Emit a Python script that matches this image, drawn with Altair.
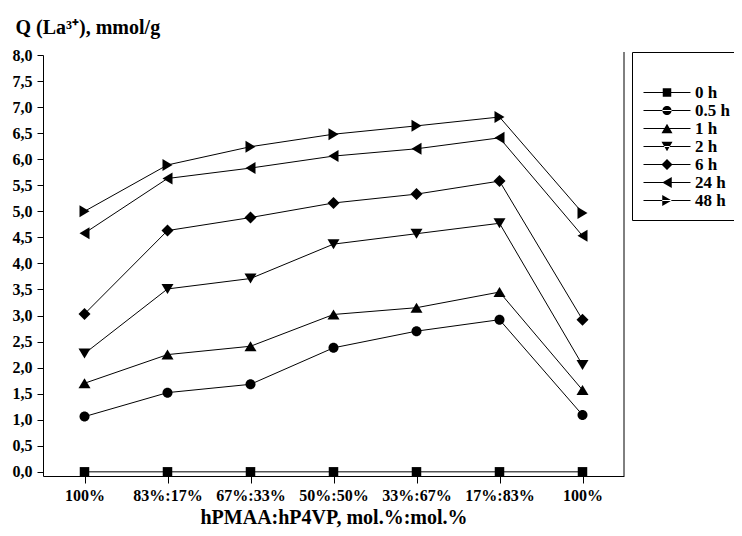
import altair as alt
import pandas as pd

# ---- data ----
compositions = ["100%", "83%:17%", "67%:33%", "50%:50%", "33%:67%", "17%:83%", "100%"]
series_names = ["0 h", "0.5 h", "1 h", "2 h", "6 h", "24 h", "48 h"]

q_0h = [0.0, 0.0, 0.0, 0.0, 0.0, 0.0, 0.0]
q_05h = [1.06, 1.52, 1.68, 2.38, 2.70, 2.92, 1.09]
q_1h = [1.70, 2.25, 2.41, 3.02, 3.15, 3.45, 1.57]
q_2h = [2.27, 3.51, 3.71, 4.37, 4.57, 4.77, 2.05]
q_6h = [3.03, 4.63, 4.88, 5.16, 5.33, 5.58, 2.92]
q_24h = [4.58, 5.63, 5.83, 6.06, 6.20, 6.41, 4.53]
q_48h = [5.00, 5.89, 6.24, 6.48, 6.64, 6.81, 4.97]

all_series = [q_0h, q_05h, q_1h, q_2h, q_6h, q_24h, q_48h]

rows = []
for s, vals in zip(series_names, all_series):
    for i, v in enumerate(vals):
        rows.append({"pos": i, "series": s, "q": v})
df = pd.DataFrame(rows)

FONT = "'Liberation Serif', 'Times New Roman', Times, serif"

# marker shapes for the plotted points (unit = 5 px at size 100)
chart_shapes = [
    "M-0.95,-0.95H0.95V0.95H-0.95Z",
    "M-1,0A1,1,0,1,0,1,0A1,1,0,1,0,-1,0Z",
    "M0,-1L1.2,1L-1.2,1Z",
    "M0,1L1.2,-1L-1.2,-1Z",
    "M0,-1.2L1.2,0L0,1.2L-1.2,0Z",
    "M-1,0L1,-1.2L1,1.2Z",
    "M1,0L-1,-1.2L-1,1.2Z",
]
# legend symbols: a thin line with the marker in its middle (unit = 5 px at size 100)
line = "M-4.7,-0.1H4.7V0.1H-4.7Z"
legend_shapes = [
    line + "M-0.85,-0.85H0.85V0.85H-0.85Z",
    line + "M-0.92,0A0.92,0.92,0,1,0,0.92,0A0.92,0.92,0,1,0,-0.92,0Z",
    line + "M0,-0.95L1.1,0.95L-1.1,0.95Z",
    line + "M0,0.95L1.1,-0.95L-1.1,-0.95Z",
    line + "M0,-1.1L1.1,0L0,1.1L-1.1,0Z",
    line + "M-0.95,0L0.95,-1.1L0.95,1.1Z",
    line + "M0.95,0L-0.95,-1.1L-0.95,1.1Z",
]

label_js = "[" + ",".join("'" + c + "'" for c in compositions) + "]"

x_enc = alt.X(
    "pos:Q",
    scale=alt.Scale(domain=[-0.5, 6.5], nice=False, zero=False),
    axis=alt.Axis(
        values=list(range(7)),
        labelExpr=label_js + "[datum.value]",
        title="hPMAA:hP4VP, mol.%:mol.%",
        titleBaseline="alphabetic",
        titleY=47,
        tickSize=7,
        labelPadding=4,
        labelOverlap=False,
        labelFlush=False,
    ),
)
y_enc = alt.Y(
    "q:Q",
    scale=alt.Scale(domain=[-0.08, 8.0], nice=False, zero=False),
    axis=alt.Axis(
        values=[i * 0.5 for i in range(17)],
        labelExpr="replace(format(datum.value, '.1f'), '.', ',')",
        title="Q (La³⁺), mmol/g",
        titleAngle=0,
        titleAlign="left",
        titleBaseline="alphabetic",
        titleX=-28,
        titleY=-22,
        tickSize=6,
        labelPadding=5,
    ),
)

lines = alt.Chart(df).mark_line(color="black", strokeWidth=1).encode(
    x=x_enc, y=y_enc, detail="series:N"
)

points = alt.Chart(df).mark_point(filled=True, color="black", size=100, opacity=1).encode(
    x=x_enc,
    y=y_enc,
    shape=alt.Shape(
        "series:N",
        scale=alt.Scale(domain=series_names, range=chart_shapes),
        legend=None,
    ),
)

legend_layer = alt.Chart(df).mark_point(
    filled=True, color="black", opacity=0, size=100
).encode(
    x=x_enc,
    y=y_enc,
    shape=alt.Shape(
        "series:N",
        scale=alt.Scale(domain=series_names, range=legend_shapes),
        legend=alt.Legend(
            title=" ",
            orient="none",
            legendX=589,
            legendY=-3,
            strokeColor="black",
            padding=11,
            labelFont=FONT,
            labelFontSize=17,
            labelFontWeight="bold",
            labelColor="black",
            labelOffset=19.5,
            symbolOffset=15.5,
            symbolSize=100,
            symbolStrokeWidth=0,
            symbolFillColor="black",
            symbolOpacity=1,
            rowPadding=0,
            titleFontSize=15,
            titlePadding=6,
            cornerRadius=0,
        ),
    ),
)

border = alt.Chart(pd.DataFrame({"a": [0]})).mark_rule(color="black", strokeWidth=1).encode(
    x=alt.value(581), y=alt.value(-3), y2=alt.value(421)
)

chart = (
    alt.layer(lines, points, legend_layer, border)
    .resolve_scale(shape="independent")
    .properties(
        width=581,
        height=421,
        autosize=alt.AutoSizeParams(type="none"),
        padding={"left": 35, "top": 47, "right": 110, "bottom": 52},
        background="white",
    )
    .configure_view(stroke=None)
    .configure_axis(
        grid=False,
        domainColor="black",
        domainWidth=1,
        tickColor="black",
        tickWidth=1,
        labelColor="black",
        labelFont=FONT,
        labelFontSize=16,
        labelFontWeight="bold",
        titleColor="black",
        titleFont=FONT,
        titleFontSize=20,
        titleFontWeight="bold",
    )
    .configure_legend(titleFont=FONT, titleColor="black")
)

chart.save("out.html", embed_options={"renderer": "svg", "actions": False})
